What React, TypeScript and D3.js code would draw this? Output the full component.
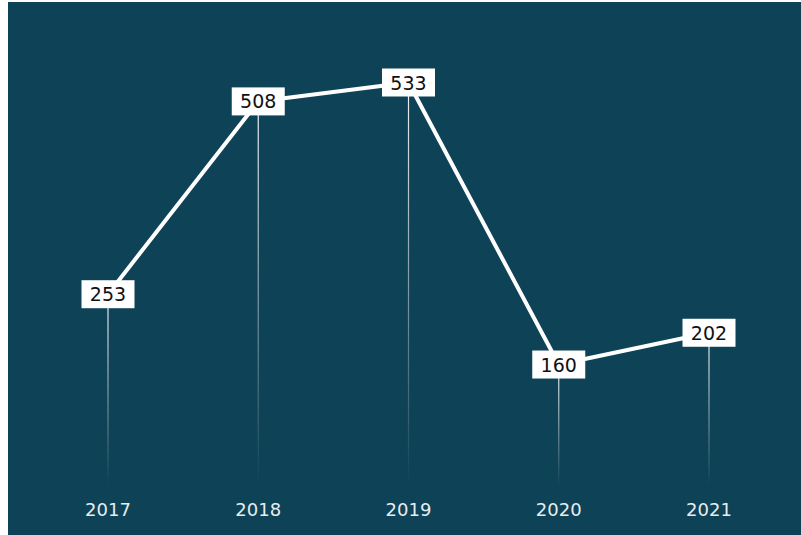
import React from "react";
import * as d3 from "d3";

const years = ["2017", "2018", "2019", "2020", "2021"];
const values = [253, 508, 533, 160, 202];

const W = 801;
const H = 535;

export default function App() {
  const x = d3.scalePoint<string>().domain(years).range([108, 709]);
  const y = d3.scaleLinear().domain([0, 533]).range([485.5, 82.5]);
  const pts = years.map((yr, i) => ({ yr, v: values[i], px: x(yr) as number, py: y(values[i]) }));
  const line = d3
    .line<(typeof pts)[0]>()
    .x((d) => d.px)
    .y((d) => d.py);
  const bg = "#0e4257";
  return (
    <svg
      width={W}
      height={H}
      style={{ position: "absolute", left: 8, top: 2, display: "block" }}
    >
      <defs>
        <linearGradient id="drop" x1="0" y1="0" x2="0" y2="1">
          <stop offset="0%" stopColor="#ffffff" stopOpacity={0.95} />
          <stop offset="100%" stopColor="#ffffff" stopOpacity={0} />
        </linearGradient>
      </defs>
      <g transform="translate(-8,-2)">
        <rect x={8} y={2} width={W} height={H} fill={bg} />
        {pts.map((p) => (
          <rect
            key={"d" + p.yr}
            x={p.px - 0.6}
            y={p.py}
            width={1.2}
            height={y(0) - p.py}
            fill="url(#drop)"
          />
        ))}
        <path d={line(pts) || ""} fill="none" stroke="#ffffff" strokeWidth={4} strokeLinejoin="round" />
        {pts.map((p) => (
          <g key={"l" + p.yr}>
            <rect x={p.px - 26.5} y={p.py - 14} width={53} height={28} fill="#ffffff" />
            <text
              x={p.px}
              y={p.py + 7}
              textAnchor="middle"
              fontFamily="'DejaVu Sans', sans-serif"
              fontSize={19}
              fill="#111"
            >
              {p.v}
            </text>
          </g>
        ))}
        {pts.map((p) => (
          <text
            key={"t" + p.yr}
            x={p.px}
            y={515.5}
            textAnchor="middle"
            fontFamily="'DejaVu Sans', sans-serif"
            fontSize={18}
            fill="#e6edf0"
          >
            {p.yr}
          </text>
        ))}
      </g>
    </svg>
  );
}
